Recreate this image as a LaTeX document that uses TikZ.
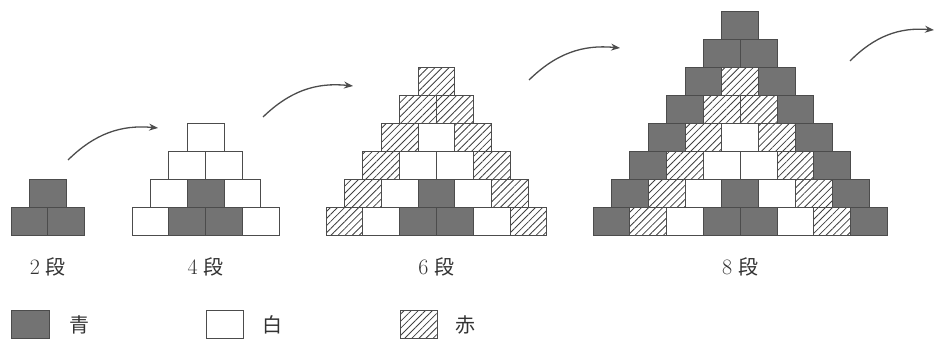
\documentclass[tikz,border=0pt]{standalone}
\usepackage{fontspec}
\newfontfamily\cjk{Noto Sans CJK JP}
\usetikzlibrary{arrows.meta,patterns.meta}

% one row of bricks: left x, bottom y, list of styles
\newcommand{\brickrow}[3]{%
	\foreach \s [count=\i from 0] in {#3}
		\draw[\s] ({#1+\i*36.8},#2) rectangle ++(36.8,28);
}

\begin{document}
\begin{tikzpicture}[x=1pt, y=1pt,
		brick/.style = {draw=black!70, line width=1pt},
		ao/.style = {brick, fill=black!55},
		shiro/.style = {brick, fill=white},
		aka/.style = {brick, pattern={Lines[angle=45, distance=5pt, line width=0.8pt]}, pattern color=black!75},
		steplabel/.style = {text=black!80, font=\fontsize{22}{26}\selectfont},
		keylabel/.style = {text=black!80, font=\fontsize{20}{24}\selectfont\cjk},
		arr/.style = {draw=black!70, line width=1.3pt, -{Stealth[length=9pt, width=7pt]}}]
	\useasboundingbox (0,0) rectangle (935,340);

	% 2 steps
	\brickrow{11}{104}{ao,ao}
	\brickrow{11+18.4}{132}{ao}

	% 4 steps
	\brickrow{132}{104}{shiro,ao,ao,shiro}
	\brickrow{132+18.4}{132}{shiro,ao,shiro}
	\brickrow{132+36.8}{160}{shiro,shiro}
	\brickrow{132+55.2}{188}{shiro}

	% 6 steps
	\brickrow{326}{104}{aka,shiro,ao,ao,shiro,aka}
	\brickrow{326+18.4}{132}{aka,shiro,ao,shiro,aka}
	\brickrow{326+36.8}{160}{aka,shiro,shiro,aka}
	\brickrow{326+55.2}{188}{aka,shiro,aka}
	\brickrow{326+73.6}{216}{aka,aka}
	\brickrow{326+92}{244}{aka}

	% 8 steps
	\brickrow{593}{104}{ao,aka,shiro,ao,ao,shiro,aka,ao}
	\brickrow{593+18.4}{132}{ao,aka,shiro,ao,shiro,aka,ao}
	\brickrow{593+36.8}{160}{ao,aka,shiro,shiro,aka,ao}
	\brickrow{593+55.2}{188}{ao,aka,shiro,aka,ao}
	\brickrow{593+73.6}{216}{ao,aka,aka,ao}
	\brickrow{593+92}{244}{ao,aka,ao}
	\brickrow{593+110.4}{272}{ao,ao}
	\brickrow{593+128.8}{300}{ao}

	% step labels
	\node[steplabel] (s2) at (47.8,73) {2\hspace{6pt}{\fontsize{20}{24}\selectfont\cjk 段}};
	\node[steplabel] (s4) at (205.6,73) {4\hspace{6pt}{\fontsize{20}{24}\selectfont\cjk 段}};
	\node[steplabel] (s6) at (436.4,73) {6\hspace{6pt}{\fontsize{20}{24}\selectfont\cjk 段}};
	\node[steplabel] (s8) at (740.2,73) {8\hspace{6pt}{\fontsize{20}{24}\selectfont\cjk 段}};

	% arrows
	\coordinate (a1s) at (68,180);
	\coordinate (a1e) at (158,212);
	\coordinate (a2s) at (263,223);
	\coordinate (a2e) at (353,254);
	\coordinate (a3s) at (529,260);
	\coordinate (a3e) at (620,292);
	\coordinate (a4s) at (850,279);
	\coordinate (a4e) at (934,310);
	\draw[arr] (a1s) to [bend left=25] (a1e);
	\draw[arr] (a2s) to [bend left=25] (a2e);
	\draw[arr] (a3s) to [bend left=25] (a3e);
	\draw[arr] (a4s) to [bend left=25] (a4e);

	% legend
	\draw[ao] (11,1) rectangle (49,29);
	\node[keylabel] (k1) at (79,15) {青};
	\draw[shiro] (206,1) rectangle (243,29);
	\node[keylabel] (k2) at (272,15) {白};
	\draw[aka] (400,1) rectangle (437,29);
	\node[keylabel] (k3) at (465,15) {赤};
\end{tikzpicture}
\end{document}
